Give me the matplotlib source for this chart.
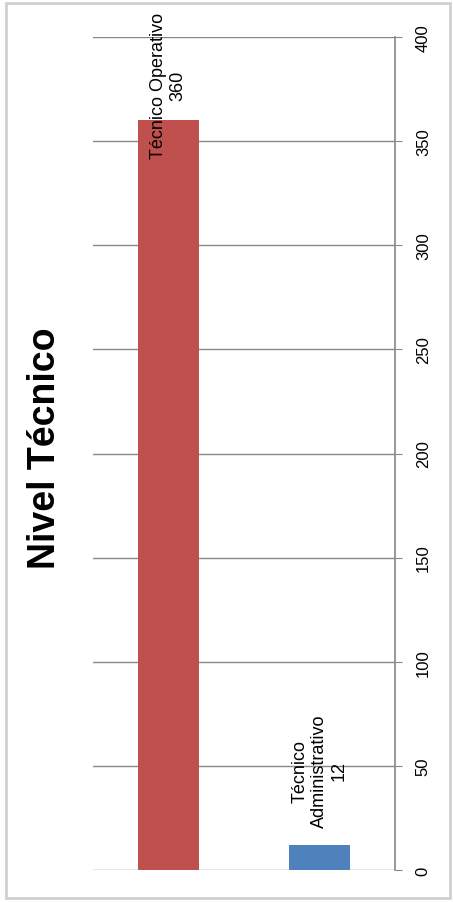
import matplotlib
matplotlib.use("Agg")
import matplotlib.pyplot as plt
from matplotlib.patches import Rectangle

plt.rcParams['font.family'] = ['Liberation Sans', 'DejaVu Sans']

categorias = ["Técnico Operativo", "Técnico\nAdministrativo"]
valores = [360, 12]
colores = ["#C0504D", "#4F81BD"]
ticks = [0, 50, 100, 150, 200, 250, 300, 350, 400]

W, H = 453, 903
fig = plt.figure(figsize=(W / 100, H / 100), dpi=100)
ax = fig.add_axes([93 / W, 32 / H, (395 - 93) / W, (871 - 38) / H])

x = range(len(valores))
ax.bar(x, valores, width=0.4, color=colores, zorder=3)
ax.set_xlim(-0.5, 1.5)
ax.set_ylim(0, 400)
ax.set_yticks(ticks)

ax.yaxis.tick_right()
ax.tick_params(axis='y', direction='out', length=5, color='#868686', pad=10, labelsize=12)
for lbl in ax.get_yticklabels():
    lbl.set_rotation(90)
    lbl.set_va('center')
ax.set_xticks([])
ax.grid(axis='y', color='#868686', linewidth=1, zorder=0)
for s in ['top', 'left', 'bottom']:
    ax.spines[s].set_visible(False)
ax.spines['right'].set_color('#868686')
ax.spines['right'].set_linewidth(1.2)

# etiquetas de datos
label_pos = [377, 48]
for i, (c, v) in enumerate(zip(categorias, valores)):
    ax.text(i, label_pos[i], c + "\n" + str(v), rotation=90, ha='center', va='center',
            multialignment='center', fontsize=13, linespacing=1.2, zorder=4)

fig.text(45 / W, 1 - 448 / H, "Nivel Técnico", rotation=90, ha='center', va='center',
         fontsize=27, fontweight='bold')

fig.patches.append(Rectangle((6 / W, 4 / H), (450 - 6) / W, (901 - 6) / H,
                             transform=fig.transFigure, fill=False,
                             edgecolor='#D0D0D0', linewidth=2))

fig.savefig("out.png", dpi=100)
